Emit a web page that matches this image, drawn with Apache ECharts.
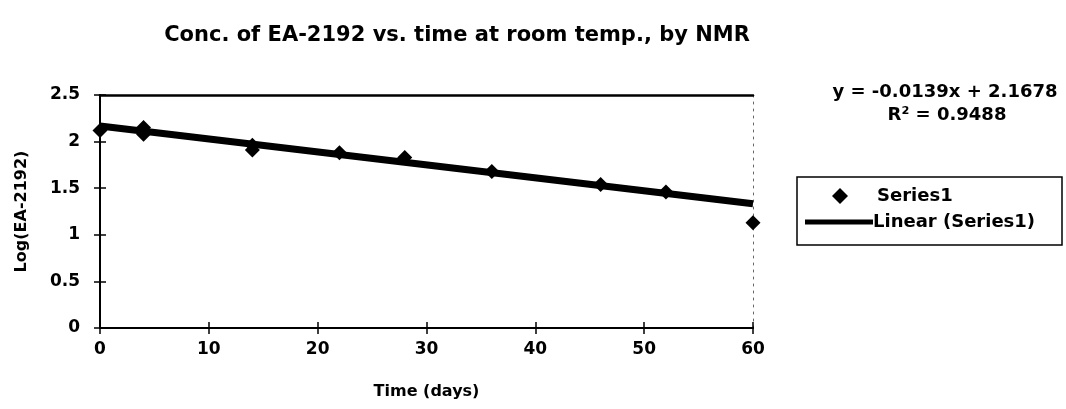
<!DOCTYPE html>
<html><head><meta charset="utf-8">
<script src="https://cdn.jsdelivr.net/npm/echarts@6/dist/echarts.min.js"></script>
<style>html,body{margin:0;padding:0;background:#fff}#c{width:1066px;height:409px}</style>
</head><body><div id="c"></div>
<script>
const days   = [0, 4, 4, 14, 14, 22, 28, 36, 46, 52, 60];
const logConc = [2.12, 2.15, 2.08, 1.96, 1.91, 1.88, 1.83, 1.68, 1.54, 1.46, 1.13];
const trendSlope = -0.0139;
const trendIntercept = 2.1678;
const rSquared = 0.9488;
const trendDays = [0, 60];

const FONT = '"DejaVu Sans", "Liberation Sans", Arial, sans-serif';
const chart = echarts.init(document.getElementById('c'));
const scatterData = days.map((d, i) => [d, logConc[i]]);
const trendData = trendDays.map(d => [d, trendIntercept + trendSlope * d]);
const eqText = 'y = ' + trendSlope.toFixed(4) + 'x + ' + trendIntercept.toFixed(4);
const r2Text = 'R² = ' + rSquared.toFixed(4);

const axisTextStyle = {fontFamily: FONT, fontWeight: 'bold', fontSize: 17, color: '#000'};
const gridBox = {left: 100, right: 313, top: 95, bottom: 81, show: false};
const xBase = {type: 'value', min: 0, max: 60, interval: 10};
const yBase = {type: 'value', min: 0, max: 2.5, interval: 0.5};
const hidden = {axisLabel: {show: false}, splitLine: {show: false}};
const tickStyle = {color: '#000', width: 1.5};

chart.setOption({
  animation: false,
  backgroundColor: '#fff',
  title: [{
    text: 'Conc. of EA-2192 vs. time at room temp., by NMR',
    left: 452, top: 20, textAlign: 'center',
    textStyle: {fontFamily: FONT, fontWeight: 'bold', fontSize: 21, color: '#000'}
  }, {
    text: eqText, left: 940, top: 78, textAlign: 'center',
    textStyle: {fontFamily: FONT, fontWeight: 'bold', fontSize: 18, color: '#000'}
  }, {
    text: r2Text, left: 942, top: 101, textAlign: 'center',
    textStyle: {fontFamily: FONT, fontWeight: 'bold', fontSize: 18, color: '#000'}
  }],
  grid: [gridBox, gridBox, gridBox],
  legend: [{
    left: 832, top: 187, orient: 'vertical', padding: 0,
    itemWidth: 16, itemHeight: 16, itemGap: 8,
    textStyle: {fontFamily: FONT, fontWeight: 'bold', fontSize: 18, color: '#000', padding: [0, 0, 0, 24]},
    data: [{name: 'Series1', icon: 'diamond', itemStyle: {color: '#000'}}]
  }, {
    left: 805, top: 213, orient: 'vertical', padding: 0,
    itemWidth: 68, itemHeight: 5, itemGap: 0,
    textStyle: {fontFamily: FONT, fontWeight: 'bold', fontSize: 18, color: '#000', padding: [0, 0, 0, -5]},
    data: [{name: 'Linear (Series1)', icon: 'rect', itemStyle: {color: '#000'}}]
  }],
  xAxis: [Object.assign({}, xBase, {
    gridIndex: 0, position: 'bottom',
    name: 'Time (days)', nameLocation: 'middle', nameGap: 56,
    nameTextStyle: {fontFamily: FONT, fontWeight: 'bold', fontSize: 16, color: '#000'},
    axisLine: {onZero: false, lineStyle: {color: '#000', width: 2}},
    axisTick: {show: true, length: 6, lineStyle: tickStyle},
    axisLabel: Object.assign({margin: 13}, axisTextStyle),
    splitLine: {show: false}
  }), Object.assign({}, xBase, hidden, {
    gridIndex: 1, position: 'top',
    axisLine: {show: true, onZero: false, lineStyle: {color: '#000', width: 2.5}},
    axisTick: {show: false}
  }), Object.assign({}, xBase, hidden, {
    gridIndex: 2, position: 'bottom',
    axisLine: {show: true, onZero: false, lineStyle: {color: '#000', width: 2}},
    axisTick: {show: true, inside: true, length: 6, lineStyle: tickStyle}
  })],
  yAxis: [Object.assign({}, yBase, {
    gridIndex: 0, position: 'left',
    name: 'Log(EA-2192)', nameLocation: 'middle', nameGap: 70,
    nameTextStyle: {fontFamily: FONT, fontWeight: 'bold', fontSize: 16, color: '#000'},
    axisLine: {show: true, onZero: false, lineStyle: {color: '#000', width: 2}},
    axisTick: {show: true, length: 6, lineStyle: tickStyle},
    axisLabel: Object.assign({margin: 20, formatter: v => String(v)}, axisTextStyle),
    splitLine: {show: false}
  }), Object.assign({}, yBase, hidden, {
    gridIndex: 1, position: 'right',
    axisLine: {show: true, onZero: false, lineStyle: {color: '#666', width: 1, type: [2, 5]}},
    axisTick: {show: false}
  }), Object.assign({}, yBase, hidden, {
    gridIndex: 2, position: 'left',
    axisLine: {show: true, onZero: false, lineStyle: {color: '#000', width: 2}},
    axisTick: {show: true, inside: true, length: 6, lineStyle: tickStyle}
  })],
  series: [{
    name: 'Linear (Series1)', type: 'line', data: trendData, xAxisIndex: 0, yAxisIndex: 0,
    symbol: 'none', lineStyle: {color: '#000', width: 7}, itemStyle: {color: '#000'}, z: 2
  }, {
    name: 'Series1', type: 'scatter', data: scatterData, xAxisIndex: 0, yAxisIndex: 0,
    symbol: 'diamond', symbolSize: 15, itemStyle: {color: '#000', opacity: 1}, z: 3
  }],
  graphic: [{
    type: 'rect', shape: {x: 797, y: 177, width: 265, height: 68},
    style: {fill: 'none', stroke: '#000', lineWidth: 1.5}, silent: true
  }]
});
</script></body></html>
